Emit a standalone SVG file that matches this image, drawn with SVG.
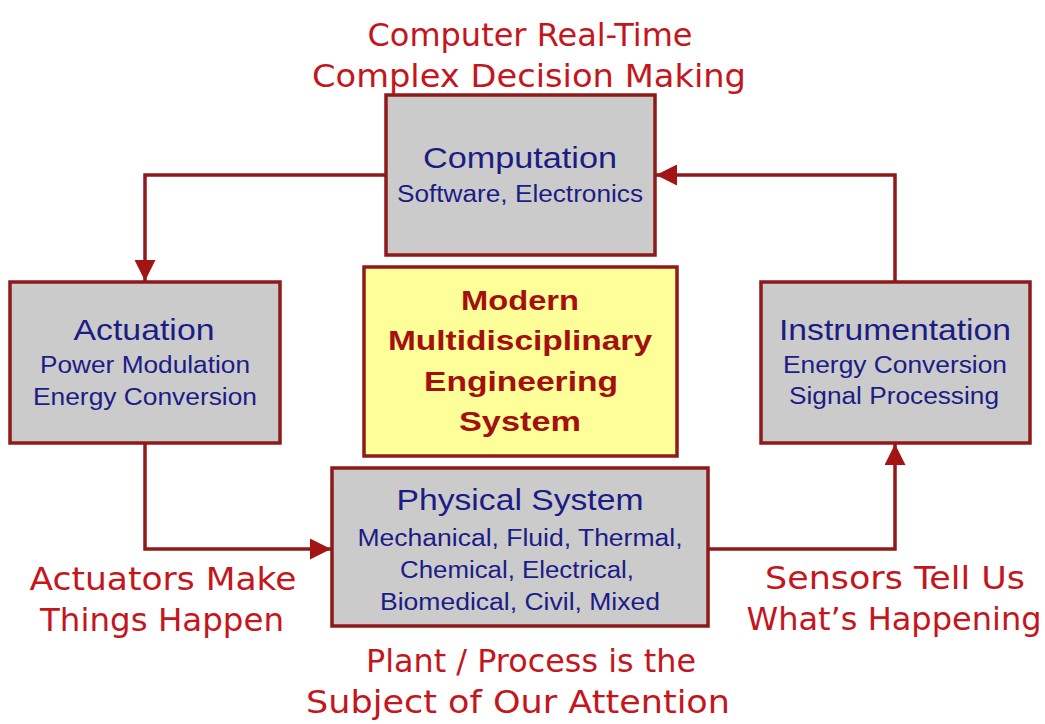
<svg xmlns="http://www.w3.org/2000/svg" width="1045" height="724" viewBox="0 0 1045 724">
<defs>
<style>
.box{fill:#cbcbcb;stroke:#8e1a1a;stroke-width:3.5}
.ybox{fill:#ffff99;stroke:#8e1a1a;stroke-width:3.5}
.t{font-family:"Liberation Sans",Arial,sans-serif;fill:#1c1c86;text-anchor:middle}
.h{font-size:30px}
.s{font-size:23px}
.y{font-family:"Liberation Sans",Arial,sans-serif;font-weight:bold;font-size:28px;fill:#a4100f;text-anchor:middle}
.r{font-family:"Comic Sans MS","DejaVu Sans",sans-serif;font-size:32px;fill:#c4161c;text-anchor:middle}
.c{fill:none;stroke:#8e1a1a;stroke-width:3.5}
</style>
<marker id="ah" viewBox="0 0 10 10" refX="10" refY="5" markerWidth="6" markerHeight="6" orient="auto" markerUnits="strokeWidth">
<path d="M0,0 L10,5 L0,10 Z" fill="#a31414"/>
</marker>
</defs>
<rect width="1045" height="724" fill="#ffffff"/>
<g id="connectors">
<path class="c" d="M386,175 H145 V281" marker-end="url(#ah)"/>
<path class="c" d="M895,282 V175 H656" marker-end="url(#ah)"/>
<path class="c" d="M145,443 V549 H331" marker-end="url(#ah)"/>
<path class="c" d="M708,549 H895 V444" marker-end="url(#ah)"/>
</g>
<g id="computation">
<rect class="box" x="386" y="95" width="269" height="160"/>
<text class="t h" x="520" y="168" textLength="194" lengthAdjust="spacingAndGlyphs">Computation</text>
<text class="t s" x="520" y="202" textLength="246" lengthAdjust="spacingAndGlyphs">Software, Electronics</text>
</g>
<g id="actuation">
<rect class="box" x="10" y="282" width="270" height="161"/>
<text class="t h" x="144" y="340" textLength="141" lengthAdjust="spacingAndGlyphs">Actuation</text>
<text class="t s" x="145" y="373" textLength="210" lengthAdjust="spacingAndGlyphs">Power Modulation</text>
<text class="t s" x="145" y="405" textLength="224" lengthAdjust="spacingAndGlyphs">Energy Conversion</text>
</g>
<g id="center">
<rect class="ybox" x="364" y="267" width="313" height="189"/>
<text class="y" x="520" y="310" textLength="118" lengthAdjust="spacingAndGlyphs">Modern</text>
<text class="y" x="520" y="350" textLength="264" lengthAdjust="spacingAndGlyphs">Multidisciplinary</text>
<text class="y" x="521" y="391" textLength="194" lengthAdjust="spacingAndGlyphs">Engineering</text>
<text class="y" x="520" y="431" textLength="122" lengthAdjust="spacingAndGlyphs">System</text>
</g>
<g id="physical">
<rect class="box" x="332" y="468" width="376" height="158"/>
<text class="t h" x="520" y="510" textLength="247" lengthAdjust="spacingAndGlyphs">Physical System</text>
<text class="t s" x="520" y="546" textLength="325" lengthAdjust="spacingAndGlyphs">Mechanical, Fluid, Thermal,</text>
<text class="t s" x="517" y="578" textLength="234" lengthAdjust="spacingAndGlyphs">Chemical, Electrical,</text>
<text class="t s" x="520" y="610" textLength="280" lengthAdjust="spacingAndGlyphs">Biomedical, Civil, Mixed</text>
</g>
<g id="instrumentation">
<rect class="box" x="761" y="282" width="269" height="161"/>
<text class="t h" x="895" y="340" textLength="232" lengthAdjust="spacingAndGlyphs">Instrumentation</text>
<text class="t s" x="895" y="373" textLength="224" lengthAdjust="spacingAndGlyphs">Energy Conversion</text>
<text class="t s" x="894" y="404" textLength="210" lengthAdjust="spacingAndGlyphs">Signal Processing</text>
</g>
<g id="labels">
<text class="r" x="530" y="46" textLength="325" lengthAdjust="spacingAndGlyphs">Computer Real-Time</text>
<text class="r" x="529" y="87" textLength="434" lengthAdjust="spacingAndGlyphs">Complex Decision Making</text>
<text class="r" x="163" y="590" textLength="267" lengthAdjust="spacingAndGlyphs">Actuators Make</text>
<text class="r" x="162" y="631" textLength="244" lengthAdjust="spacingAndGlyphs">Things Happen</text>
<text class="r" x="895" y="589" textLength="260" lengthAdjust="spacingAndGlyphs">Sensors Tell Us</text>
<text class="r" x="894" y="630" textLength="295" lengthAdjust="spacingAndGlyphs">What’s Happening</text>
<text class="r" x="531" y="672" textLength="330" lengthAdjust="spacingAndGlyphs">Plant / Process is the</text>
<text class="r" x="518" y="713" textLength="424" lengthAdjust="spacingAndGlyphs">Subject of Our Attention</text>
</g>
</svg>
